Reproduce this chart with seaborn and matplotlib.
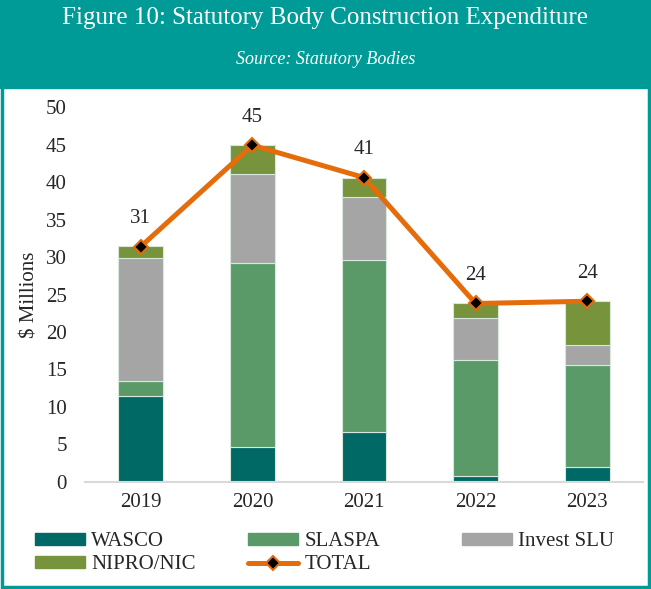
"""Figure 10: statutory body construction expenditure, stacked bars with total line."""

import matplotlib.pyplot as plt
import matplotlib.patches as mpatches
import numpy as np
import seaborn as sns

years = ["2019", "2020", "2021", "2022", "2023"]
wasco = [11.4, 4.7, 6.7, 0.85, 2.05]
slaspa = [2.1, 24.45, 22.95, 15.35, 13.6]
invest_slu = [16.4, 11.9, 8.3, 5.7, 2.6]
nipro_nic = [1.6, 3.85, 2.65, 1.9, 5.85]
totals = [31.4, 44.9, 40.6, 23.8, 24.1]

series = [
    ("WASCO", wasco, "#006966"),
    ("SLASPA", slaspa, "#5A9A69"),
    ("Invest SLU", invest_slu, "#A5A5A5"),
    ("NIPRO/NIC", nipro_nic, "#77933C"),
]
TEAL = "#009A97"
ORANGE = "#E46C0A"

sns.set_style("white")
plt.rcParams["font.family"] = ["Liberation Serif", "DejaVu Serif"]

fig = plt.figure(figsize=(6.51, 5.89), dpi=100)
ax = fig.add_axes([0.1306, 0.1817, 0.8571, 0.6366])

# header band and frame
fig.patches.append(mpatches.Rectangle((0, 1 - 88 / 589), 1, 88 / 589,
                                      transform=fig.transFigure, color=TEAL, zorder=0))
fig.patches.append(mpatches.Rectangle((0.003, 0.003), 0.994, 0.994, transform=fig.transFigure,
                                      fill=False, edgecolor=TEAL, linewidth=2.5, zorder=5))
fig.text(0.5, 1 - 18 / 589, "Figure 10: Statutory Body Construction Expenditure",
         color="white", fontsize=18, ha="center", va="center")
fig.text(0.5, 1 - 60 / 589, "Source: Statutory Bodies", color="white",
         fontsize=13, style="italic", ha="center", va="center")

bottom = np.zeros(len(years))
handles = {}
for name, values, color in series:
    sns.barplot(x=years, y=values, bottom=bottom, color=color, saturation=1, width=0.4,
                edgecolor="#D8E8DC", linewidth=0.8, errorbar=None, ax=ax)
    handles[name] = mpatches.Patch(color=color)
    bottom += np.array(values)

pos = np.arange(len(years))
line, = ax.plot(pos, totals, color=ORANGE, linewidth=3.6, marker="D", markersize=7.5,
                markerfacecolor="black", markeredgecolor=ORANGE, markeredgewidth=1.5,
                zorder=4)
handles["TOTAL"] = line
for i, v in enumerate(totals):
    ax.annotate(f"{v:.0f}", (i, v), xytext=(0, 20), textcoords="offset points",
                ha="center", va="center", fontsize=15)

ax.set_xlim(-0.5, len(years) - 0.5)
ax.set_ylim(0, 50)
ax.set_yticks(range(0, 51, 5))
ax.tick_params(axis="both", length=0, labelsize=15)
ax.tick_params(axis="y", pad=13)
ax.tick_params(axis="x", pad=8)
ax.set_ylabel("$ Millions", fontsize=15, labelpad=5)
ax.set_xlabel("")
for side in ["top", "right", "left"]:
    ax.spines[side].set_visible(False)
ax.spines["bottom"].set_color("#D9D9D9")
ax.spines["bottom"].set_linewidth(1.5)

# legend: three columns placed by hand
columns = [(35, ["WASCO", "NIPRO/NIC"]), (248, ["SLASPA", "TOTAL"]), (462, ["Invest SLU"])]
for x0, names in columns:
    fig.legend([handles[n] for n in names], names, loc="upper left",
               bbox_to_anchor=(x0 / 651, 1 - 532 / 589), frameon=False, fontsize=15,
               handlelength=2.4, handleheight=0.5, handletextpad=0.3,
               labelspacing=0.2, borderpad=0, borderaxespad=0)

fig.savefig("out.png", dpi=100)
